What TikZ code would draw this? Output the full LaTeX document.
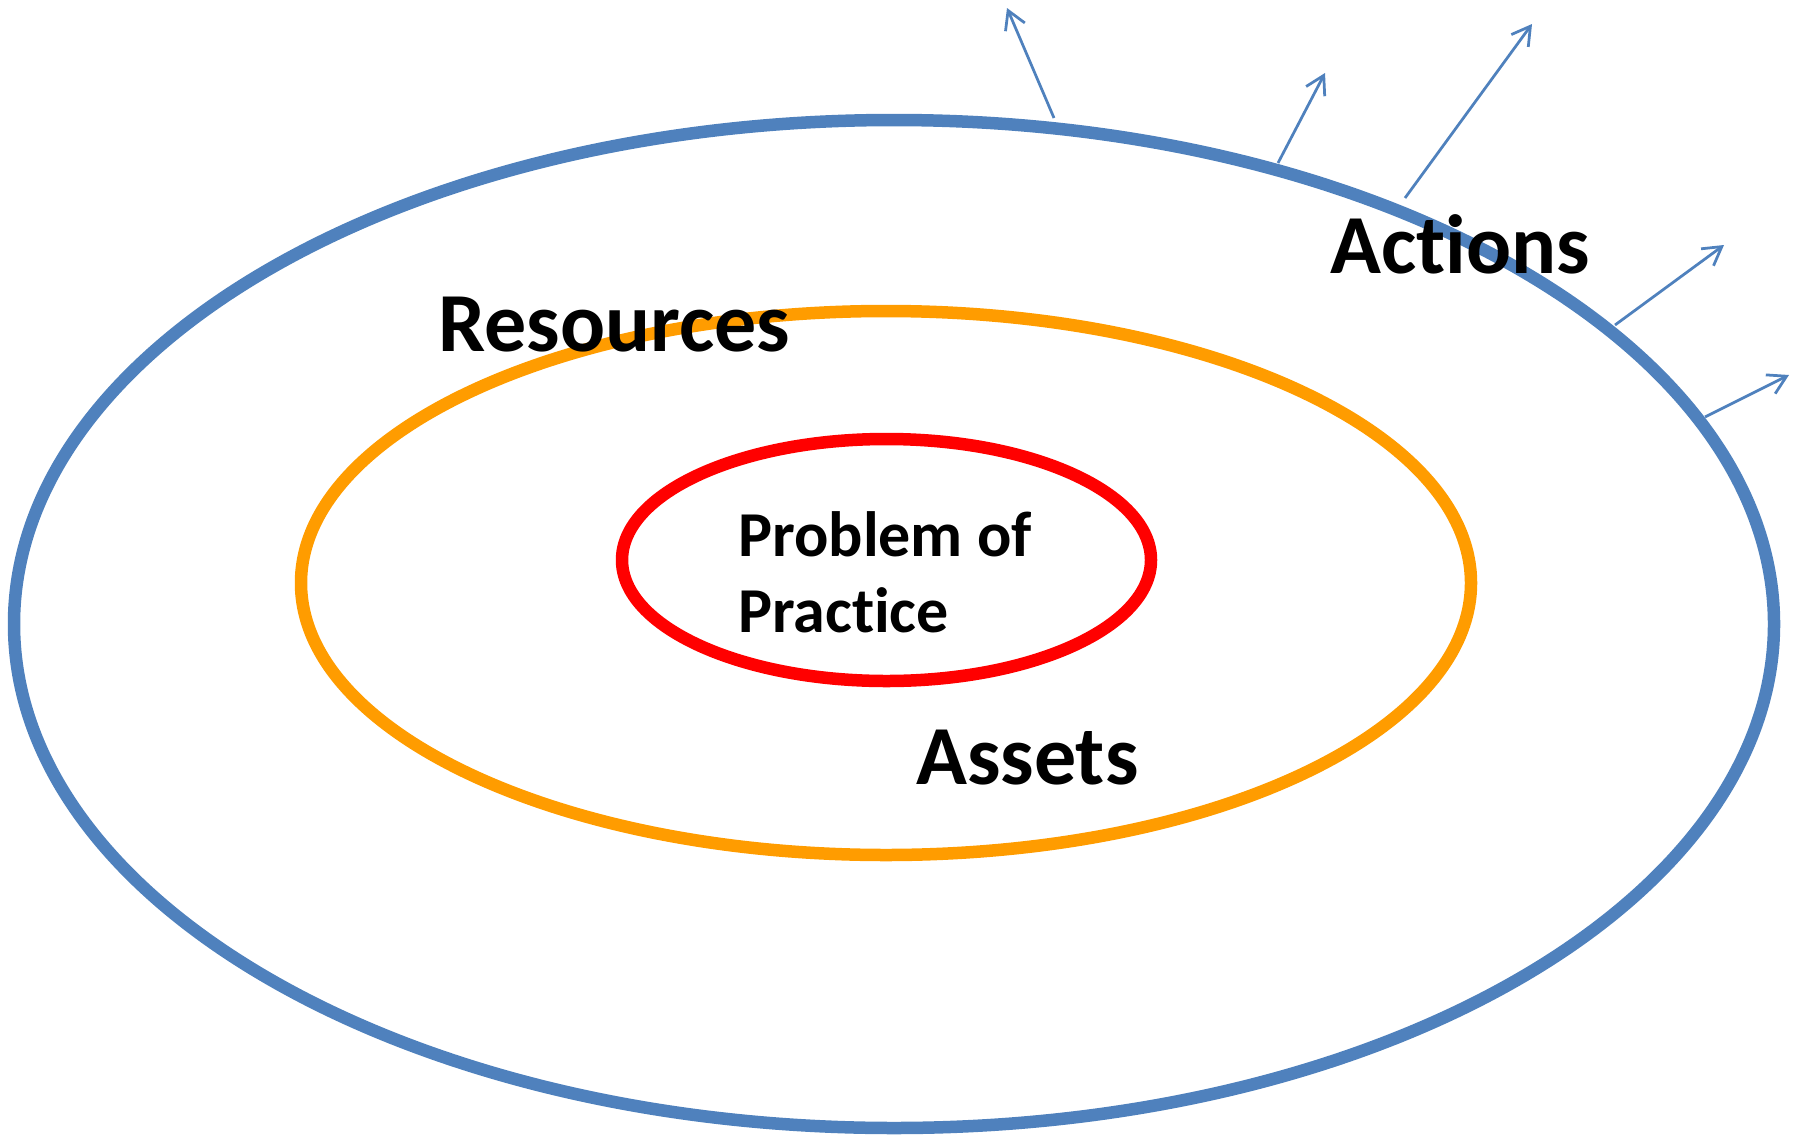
\documentclass[tikz,border=0pt]{standalone}
\usepackage{fontspec}
\setmainfont[Ligatures=NoCommon]{Carlito}
\usetikzlibrary{arrows.meta}
\definecolor{outerblue}{HTML}{4F81BD}
\definecolor{ringorange}{HTML}{FF9C00}
\definecolor{corered}{HTML}{FF0000}
\begin{document}
\begin{tikzpicture}[x=1pt,y=-1pt,
  ring/.style={line width=12.5pt},
  biglabel/.style={font=\fontsize{84}{100}\selectfont\bfseries, inner sep=0pt, anchor=base west},
  smalllabel/.style={font=\fontsize{64}{76}\selectfont\bfseries, inner sep=0pt, anchor=base west},
  outarrow/.style={draw=outerblue, line width=2.75pt, -{Straight Barb[length=18pt,width=21pt]}}
]
\useasboundingbox (0,0) rectangle (1806,1138);
% rings
\draw[ring, draw=outerblue] (894,624) ellipse [x radius=880pt, y radius=504pt];
\draw[ring, draw=ringorange] (886,583) ellipse [x radius=585pt, y radius=272pt];
\draw[ring, draw=corered] (886.5,560) ellipse [x radius=264.5pt, y radius=121pt];
% arrow ends
\coordinate (s1) at (1054,118); \coordinate (e1) at (1007,8);
\coordinate (s2) at (1278,163); \coordinate (e2) at (1325,73);
\coordinate (s3) at (1405,198); \coordinate (e3) at (1532,24);
\coordinate (s4) at (1615,325); \coordinate (e4) at (1724,245);
\coordinate (s5) at (1705,417); \coordinate (e5) at (1789,375);
\draw[outarrow] (s1) -- (e1);
\draw[outarrow] (s2) -- (e2);
\draw[outarrow] (s3) -- (e3);
\draw[outarrow] (s4) -- (e4);
\draw[outarrow] (s5) -- (e5);
% labels
\node[biglabel] (resources) at (438,351) {Resources};
\node[biglabel] (actions) at (1330,273) {Actions};
\node[biglabel] (assets) at (916,784) {Assets};
\node[smalllabel] (pop1) at (738,556) {Problem of};
\node[smalllabel] (pop2) at (738,632) {Practice};
\end{tikzpicture}
\end{document}
